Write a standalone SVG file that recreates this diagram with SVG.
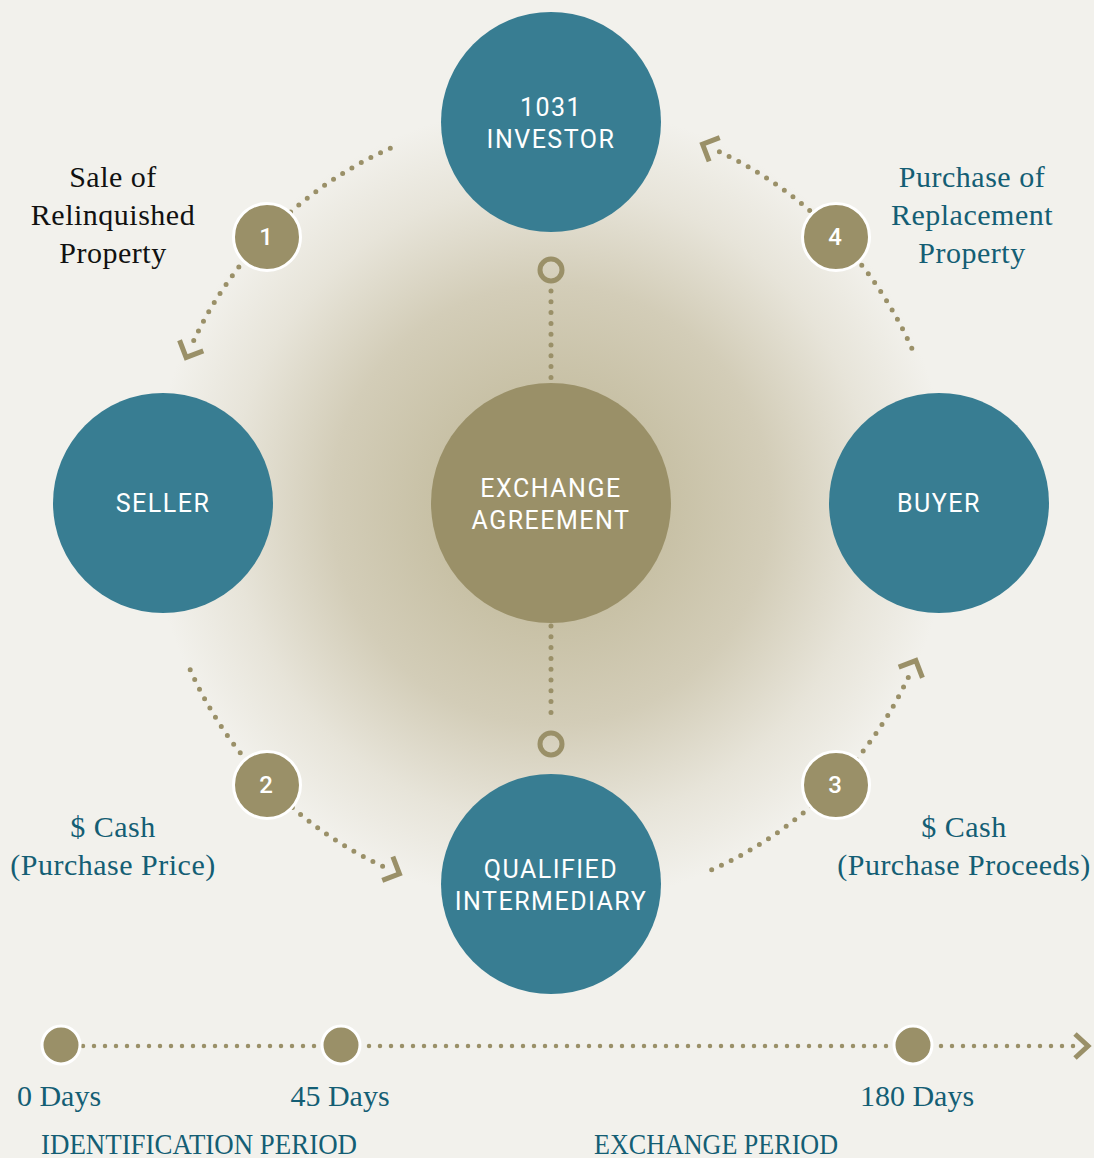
<svg xmlns="http://www.w3.org/2000/svg" width="1094" height="1158" viewBox="0 0 1094 1158">
<defs>
<radialGradient id="glow" gradientUnits="userSpaceOnUse" cx="551" cy="505" r="400">
<stop offset="0" stop-color="#bdb493"/>
<stop offset="0.3" stop-color="#c8c1a6"/>
<stop offset="0.55" stop-color="#d3cdb8"/>
<stop offset="0.8" stop-color="#e7e4d9"/>
<stop offset="1" stop-color="#f2f1ec"/>
</radialGradient>
<marker id="chev" markerUnits="userSpaceOnUse" markerWidth="40" markerHeight="40" viewBox="-20 -20 40 40" refX="-10" refY="0" orient="auto" overflow="visible">
<path d="M -13 -13 L 0 0 L -13 13" fill="none" stroke="#9a9068" stroke-width="5"/>
</marker>
<marker id="chevT" markerUnits="userSpaceOnUse" markerWidth="40" markerHeight="40" viewBox="-20 -20 40 40" refX="-9" refY="0" orient="auto" overflow="visible">
<path d="M -13 -12 L 0 0 L -13 12" fill="none" stroke="#9a9068" stroke-width="5"/>
</marker>
</defs>
<style>
.bg{fill:#f2f1ec}
.node{fill:#387d92}
.olive{fill:#9a9068}
.badge{fill:#9a9068;stroke:#ffffff;stroke-width:3}
.ring{fill:none;stroke:#9a9068;stroke-width:5}
.dots{fill:none;stroke:#9a9068;stroke-width:5;stroke-linecap:round;stroke-dasharray:0 10.8}
.tdots{fill:none;stroke:#9a9068;stroke-width:4.5;stroke-linecap:round;stroke-dasharray:0 11}
.nt{font-family:Roboto,"Liberation Sans",sans-serif;font-size:25px;fill:#ffffff;text-anchor:middle;letter-spacing:1.5px}
.bt{font-family:Roboto,"Liberation Sans",sans-serif;font-size:24px;font-weight:500;fill:#ffffff;text-anchor:middle}
.lab{font-family:"Liberation Serif",serif;font-size:30px;text-anchor:middle;letter-spacing:0.5px}
.teal{fill:#145e74}
.blk{fill:#111111}
.tl{font-family:"Liberation Serif",serif;font-size:30px;fill:#145e74}
</style>
<rect class="bg" x="0" y="0" width="1094" height="1158"/>
<circle cx="551" cy="505" r="400" fill="url(#glow)"/>

<g id="connectors">
<path class="dots" d="M 551 291 L 551 381"/>
<path class="dots" d="M 551 626 L 551 722"/>
<path class="dots" marker-end="url(#chev)" d="M 390.3 148.2 A 395 395 0 0 0 190.2 348.3"/>
<path class="dots" marker-end="url(#chev)" d="M 911.8 348.3 A 395 395 0 0 0 711.7 148.2"/>
<path class="dots" marker-end="url(#chev)" d="M 190.2 669.7 A 395 395 0 0 0 390.3 869.8"/>
<path class="dots" marker-end="url(#chev)" d="M 711.7 869.8 A 395 395 0 0 0 911.8 669.7"/>
<path class="tdots" marker-end="url(#chevT)" d="M 61 1046 L 1079 1046"/>
</g>

<g id="ring-top"><circle class="ring" cx="551" cy="270" r="11"/></g>
<g id="ring-bottom"><circle class="ring" cx="551" cy="744" r="11"/></g>

<g id="investor">
<circle class="node" cx="551" cy="122" r="110"/>
<text class="nt" x="551" y="116">1031</text>
<text class="nt" x="551" y="148">INVESTOR</text>
</g>
<g id="seller">
<circle class="node" cx="163" cy="503" r="110"/>
<text class="nt" x="163" y="512">SELLER</text>
</g>
<g id="buyer">
<circle class="node" cx="939" cy="503" r="110"/>
<text class="nt" x="939" y="512">BUYER</text>
</g>
<g id="exchange">
<circle class="olive" cx="551" cy="503" r="120"/>
<text class="nt" x="551" y="497">EXCHANGE</text>
<text class="nt" x="551" y="529">AGREEMENT</text>
</g>
<g id="intermediary">
<circle class="node" cx="551" cy="884" r="110"/>
<text class="nt" x="551" y="878">QUALIFIED</text>
<text class="nt" x="551" y="910">INTERMEDIARY</text>
</g>

<g id="badge-1"><circle class="badge" cx="267" cy="237" r="33.5"/><text class="bt" x="266" y="245">1</text></g>
<g id="badge-2"><circle class="badge" cx="267" cy="785" r="33.5"/><text class="bt" x="266" y="793">2</text></g>
<g id="badge-3"><circle class="badge" cx="836" cy="785" r="33.5"/><text class="bt" x="835" y="793">3</text></g>
<g id="badge-4"><circle class="badge" cx="836" cy="237" r="33.5"/><text class="bt" x="835" y="245">4</text></g>

<g id="label-1">
<text class="lab blk" x="113" y="187">Sale of</text>
<text class="lab blk" x="113" y="225">Relinquished</text>
<text class="lab blk" x="113" y="263">Property</text>
</g>
<g id="label-4">
<text class="lab teal" x="972" y="187">Purchase of</text>
<text class="lab teal" x="972" y="225">Replacement</text>
<text class="lab teal" x="972" y="263">Property</text>
</g>
<g id="label-2">
<text class="lab teal" x="113" y="837">$ Cash</text>
<text class="lab teal" x="113" y="875">(Purchase Price)</text>
</g>
<g id="label-3">
<text class="lab teal" x="964" y="837">$ Cash</text>
<text class="lab teal" x="964" y="875">(Purchase Proceeds)</text>
</g>

<g id="timeline">
<circle class="badge" cx="61" cy="1045" r="19"/>
<circle class="badge" cx="341" cy="1045" r="19"/>
<circle class="badge" cx="913" cy="1045" r="19"/>
<text class="tl" x="59" y="1106" text-anchor="middle">0 Days</text>
<text class="tl" x="340" y="1106" text-anchor="middle">45 Days</text>
<text class="tl" x="917" y="1106" text-anchor="middle">180 Days</text>
<text class="tl" x="41" y="1154" textLength="316" lengthAdjust="spacingAndGlyphs">IDENTIFICATION PERIOD</text>
<text class="tl" x="594" y="1154" textLength="244" lengthAdjust="spacingAndGlyphs">EXCHANGE PERIOD</text>
</g>
</svg>
